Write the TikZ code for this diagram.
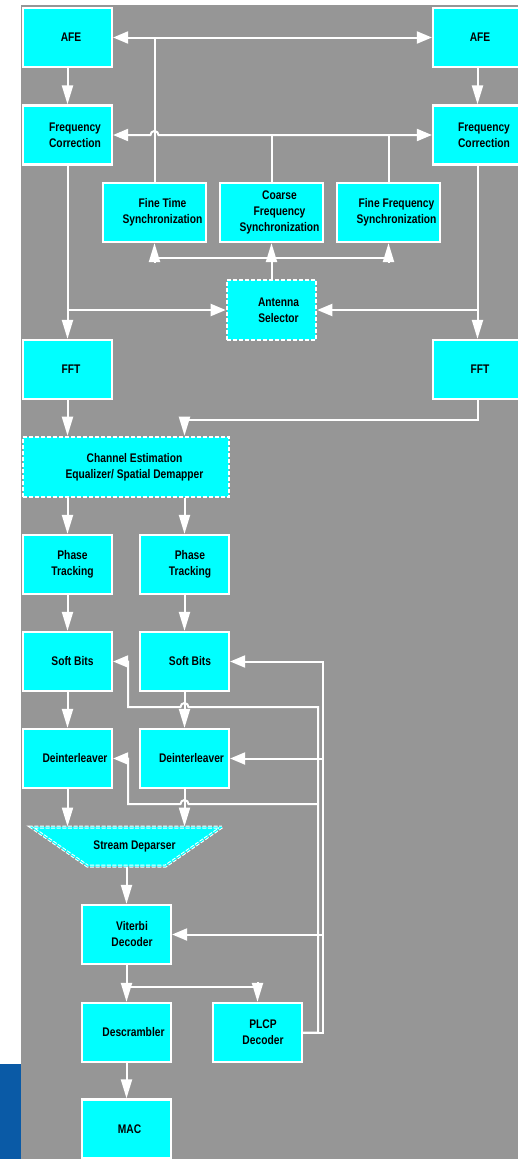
\documentclass[tikz,border=0pt]{standalone}
\usepackage{fontspec}
\newfontfamily\diagfont{Liberation Sans}[FakeStretch=0.82]
\usetikzlibrary{arrows.meta,shapes.geometric}
\definecolor{panel}{RGB}{150,150,150}
\definecolor{blockfill}{RGB}{0,255,255}
\definecolor{sidebar}{RGB}{10,90,166}

\begin{document}
\begin{tikzpicture}[x=1pt,y=-1pt,
  box/.style={draw=white, line width=2.2pt, fill=blockfill, minimum width=89pt,
    minimum height=59pt, inner sep=0pt},
  widebox/.style={box, minimum width=103pt},
  dashbox/.style={box, line width=2.6pt, dash pattern=on 4pt off 2pt},
  txt/.style={font={\diagfont\bfseries\fontsize{12.5}{16}\selectfont},
    align=center, text=black, inner sep=0pt},
  wire/.style={draw=white, line width=2pt},
  arrv/.style={wire, -{Triangle[length=19pt,width=11pt]}},
  arrh/.style={wire, -{Triangle[length=15pt,width=12pt]}},
  arrhh/.style={wire, {Triangle[length=15pt,width=12pt]}-{Triangle[length=15pt,width=12pt]}},
]
% page, grey panel and blue side strip
\useasboundingbox (0,0) rectangle (518,1159);
\clip (0,0) rectangle (518,1159);
\fill[white] (0,0) rectangle (518,1159);
\fill[panel] (21,5) rectangle (518,1159);
\fill[sidebar] (0,1064) rectangle (21,1159);

% blocks
\node[box] (afe1) at (67.5,37.5) {};
\node[box] (afe2) at (477.5,37.5) {};
\node[box] (fc1) at (67.5,135) {};
\node[box] (fc2) at (477.5,135) {};
\node[widebox] (fts) at (154.5,212.5) {};
\node[widebox] (cfs) at (271.5,212.5) {};
\node[widebox] (ffs) at (388.5,212.5) {};
\node[dashbox, minimum height=60pt] (ant) at (271.5,310) {};
\node[box] (fft1) at (67.5,369.5) {};
\node[box] (fft2) at (477.5,369.5) {};
\node[dashbox, minimum width=206pt, minimum height=60pt] (ce) at (126,467) {};
\node[box] (pt1) at (67.5,564.5) {};
\node[box] (pt2) at (184.5,564.5) {};
\node[box] (sb1) at (67.5,661.5) {};
\node[box] (sb2) at (184.5,661.5) {};
\node[box] (di1) at (67.5,758.5) {};
\node[box] (di2) at (184.5,758.5) {};
\node[trapezium, trapezium stretches=true, shape border rotate=180,
  trapezium angle=54.3, minimum width=191pt, minimum height=39pt, inner sep=3pt,
  fill=blockfill, draw=white, double=blockfill, line width=1pt,
  double distance=1pt, dash pattern=on 4pt off 1.6pt] (sd) at (126.5,846.5) {};
\node[box] (vit) at (126.5,934.5) {};
\node[box] (des) at (126.5,1032.5) {};
\node[box] (plcp) at (257.5,1032.5) {};
\node[box] (mac) at (126.5,1129) {};

% block labels
\node[txt] (afe1-l) at ([xshift=3.5pt]afe1.center) {AFE};
\node[txt] (afe2-l) at ([xshift=2.5pt]afe2.center) {AFE};
\node[txt] (fc1-l) at ([xshift=7.5pt]fc1.center) {Frequency\\Correction};
\node[txt] (fc2-l) at ([xshift=6.5pt]fc2.center) {Frequency\\Correction};
\node[txt] (fts-l) at ([xshift=8pt]fts.center) {Fine Time\\Synchronization};
\node[txt] (cfs-l) at ([xshift=8pt]cfs.center) {Coarse\\Frequency\\Synchronization};
\node[txt] (ffs-l) at ([xshift=8pt]ffs.center) {Fine Frequency\\Synchronization};
\node[txt] (ant-l) at ([xshift=7pt]ant.center) {Antenna\\Selector};
\node[txt] (fft1-l) at ([xshift=3.5pt]fft1.center) {FFT};
\node[txt] (fft2-l) at ([xshift=2.5pt]fft2.center) {FFT};
\node[txt] (ce-l) at ([xshift=8.5pt]ce.center) {Channel Estimation\\Equalizer/ Spatial Demapper};
\node[txt] (pt1-l) at ([xshift=5pt]pt1.center) {Phase\\Tracking};
\node[txt] (pt2-l) at ([xshift=5.5pt]pt2.center) {Phase\\Tracking};
\node[txt] (sb1-l) at ([xshift=5pt]sb1.center) {Soft Bits};
\node[txt] (sb2-l) at ([xshift=5.5pt]sb2.center) {Soft Bits};
\node[txt] (di1-l) at ([xshift=7.5pt]di1.center) {Deinterleaver};
\node[txt] (di2-l) at ([xshift=7pt]di2.center) {Deinterleaver};
\node[txt] (sd-l) at ([xshift=8pt]sd.center) {Stream Deparser};
\node[txt] (vit-l) at ([xshift=5.5pt]vit.center) {Viterbi\\Decoder};
\node[txt] (des-l) at ([xshift=7pt]des.center) {Descrambler};
\node[txt] (plcp-l) at ([xshift=5.5pt]plcp.center) {PLCP\\Decoder};
\node[txt] (mac-l) at ([xshift=3pt]mac.center) {MAC};

% junction points of the routed wires
\coordinate (bar) at (271.5,258);
\coordinate (barlow) at (271.5,262);
\coordinate (cej) at (184.5,420);
\coordinate (cejlow) at (184.5,417);
\coordinate (vj) at (126.5,987);
\coordinate (vjlow) at (126.5,982);
\coordinate (outer) at (323,0);
\coordinate (inner) at (318,0);
\coordinate (loopx) at (128,0);
\coordinate (hopA) at (0,707);
\coordinate (hopB) at (0,804);

% synchronisation buses
\draw[wire] (fts.north) -- (fts.north |- afe1.east);
\draw[arrh] (fts.north |- afe1.east) -- (afe1.east);
\draw[arrh] (fts.north |- afe1.east) -- (afe2.west);
\draw[arrhh] (fc1.east) -- ([xshift=-4pt]fts.north |- fc1.east)
  arc[start angle=180, end angle=0, radius=4pt] -- (fc2.west);
\draw[wire] (cfs.north) -- (cfs.north |- fc1.east);
\draw[wire] (ffs.north) -- (ffs.north |- fc1.east);

% front-end chains
\draw[arrv] (afe1.south) -- (fc1.north);
\draw[arrv] (afe2.south) -- (fc2.north);
\draw[arrv] (fc1.south) -- (fft1.north);
\draw[arrv] (fc2.south) -- (fft2.north);
\draw[arrh] (fc1.south |- ant.west) -- (ant.west);
\draw[arrh] (fc2.south |- ant.east) -- (ant.east);

% antenna selector feeding the synchronisers
\draw[wire] (ant.north) -- (bar);
\draw[wire] (bar -| fts.south) -- (bar -| ffs.south);
\draw[arrv] (barlow -| fts.south) -- (fts.south);
\draw[arrv] (barlow) -- (cfs.south);
\draw[arrv] (barlow -| ffs.south) -- (ffs.south);

% FFT outputs into channel estimation
\draw[arrv] (fft1.south) -- (fft1.south |- ce.north);
\draw[wire] (fft2.south) |- (cej);
\draw[arrv] (cejlow) -- (cejlow |- ce.north);

% per-stream chains
\draw[arrv] (pt1 |- ce.south) -- (pt1.north);
\draw[arrv] (pt2 |- ce.south) -- (pt2.north);
\draw[arrv] (pt1.south) -- (sb1.north);
\draw[arrv] (pt2.south) -- (sb2.north);
\draw[arrv] (sb1.south) -- (di1.north);
\draw[arrv] (sb2.south) -- (di2.north);
\draw[arrv] (di1.south) -- (di1.south |- sd.north);
\draw[arrv] (di2.south) -- (di2.south |- sd.north);
\draw[arrv] (sd.south) -- (vit.north);
\draw[arrv] (vit.south) -- (des.north);
\draw[wire] (vj) -- (vj -| plcp.north);
\draw[arrv] (vjlow -| plcp.north) -- (plcp.north);
\draw[arrv] (des.south) -- (mac.north);

% PLCP decoder feedback, outer rail
\draw[arrh] (plcp.east) -| (outer |- sb2.east) -- (sb2.east);
\draw[arrh] (outer |- di2.east) -- (di2.east);
\draw[arrh] (outer |- vit.east) -- (vit.east);

% PLCP decoder feedback, inner rail
\draw[arrh] (plcp.east) -| (inner |- hopA) -- ([xshift=4pt]sb2.south |- hopA)
  arc[start angle=0, end angle=180, radius=4pt] -- (loopx |- hopA) |- (sb1.east);
\draw[arrh] (inner |- hopB) -- ([xshift=4pt]di2.south |- hopB)
  arc[start angle=0, end angle=180, radius=4pt] -- (loopx |- hopB) |- (di1.east);
\end{tikzpicture}
\end{document}
